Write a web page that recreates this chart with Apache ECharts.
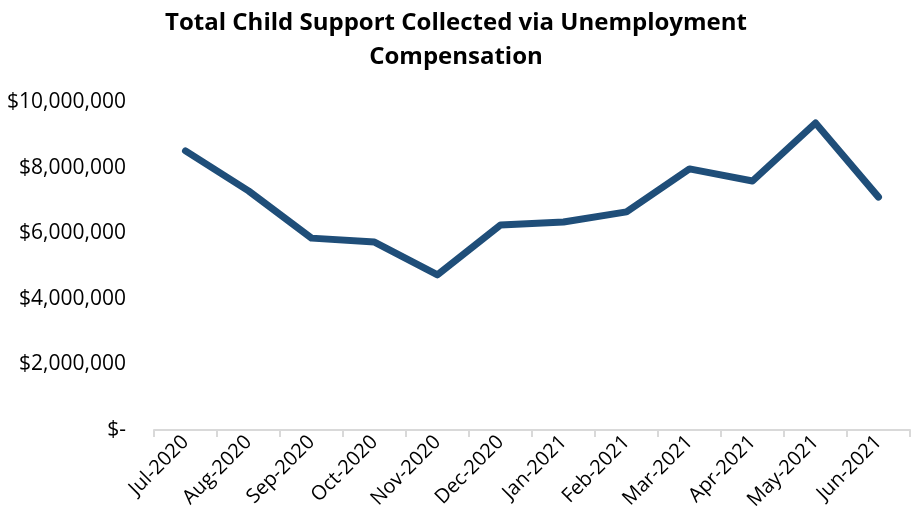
<!DOCTYPE html>
<html>
<head>
<meta charset="utf-8">
<script src="https://cdn.jsdelivr.net/npm/echarts@6/dist/echarts.min.js"></script>
<style>
  html, body { margin: 0; padding: 0; background: #fff; }
  #chart { width: 912px; height: 531px; }
</style>
</head>
<body>
<div id="chart"></div>
<script>
// data
const months = ['Jul-2020', 'Aug-2020', 'Sep-2020', 'Oct-2020', 'Nov-2020', 'Dec-2020',
  'Jan-2021', 'Feb-2021', 'Mar-2021', 'Apr-2021', 'May-2021', 'Jun-2021'];
const collected = [8510000, 7290000, 5850000, 5730000, 4730000, 6250000,
  6340000, 6650000, 7960000, 7590000, 9360000, 7100000];
const yTicks = [0, 2000000, 4000000, 6000000, 8000000, 10000000];

const chart = echarts.init(document.getElementById('chart'));

const fmtMoney = v => v === 0 ? '$-' : '$' + v.toLocaleString('en-US');

const option = {
  animation: false,
  title: {
    text: 'Total Child Support Collected via Unemployment\nCompensation',
    left: 'center',
    top: 1,
    textStyle: {
      fontFamily: 'Open Sans',
      fontWeight: 'bold',
      fontSize: 24,
      lineHeight: 34,
      color: '#000'
    }
  },
  grid: { left: 154, right: 2, top: 102, bottom: 101 },
  xAxis: {
    type: 'category',
    data: months,
    axisLine: { lineStyle: { color: '#d9d9d9', width: 2 } },
    axisTick: { show: true, length: 7, lineStyle: { color: '#d9d9d9', width: 2 } },
    axisLabel: {
      rotate: 45,
      margin: 9,
      interval: 0,
      color: '#000',
      fontFamily: 'Open Sans',
      fontSize: 20
    }
  },
  yAxis: {
    type: 'value',
    min: yTicks[0],
    max: yTicks[yTicks.length - 1],
    interval: 2000000,
    splitLine: { show: false },
    axisLine: { show: false },
    axisTick: { show: false },
    axisLabel: {
      color: '#000',
      fontFamily: 'Open Sans',
      fontSize: 21,
      margin: 28,
      formatter: fmtMoney
    }
  },
  series: [{
    type: 'line',
    data: collected,
    symbol: 'none',
    lineStyle: { color: '#1f4e79', width: 7, cap: 'round', join: 'round' }
  }]
};

chart.setOption(option);
</script>
</body>
</html>
